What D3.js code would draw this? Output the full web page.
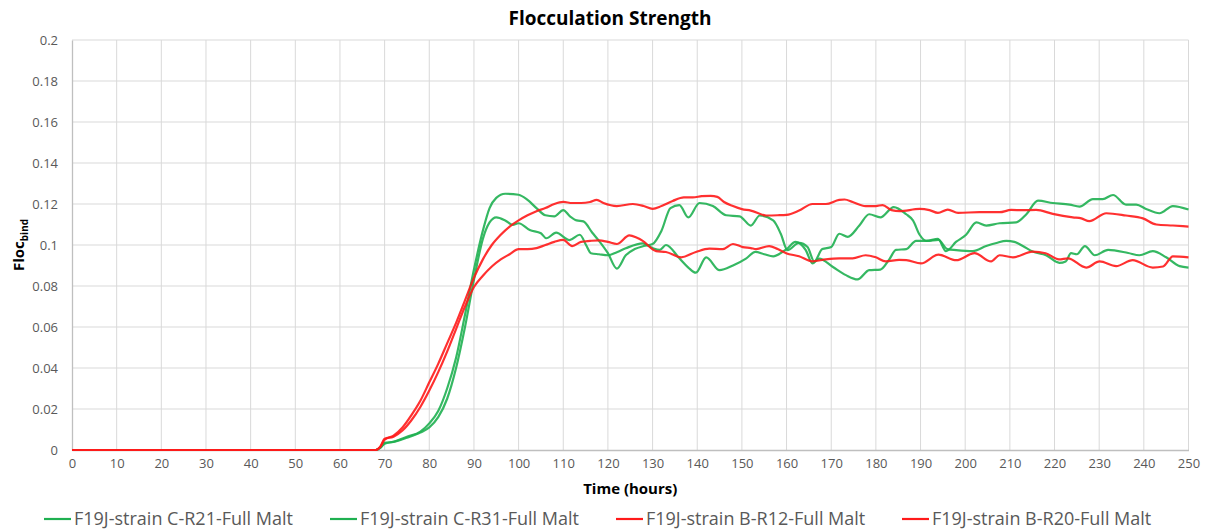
<!DOCTYPE html>
<html>
<head>
<meta charset="utf-8">
<script src="https://cdn.jsdelivr.net/npm/d3@7"></script>
<style>
  body { margin: 0; background: #fff; }
  text { font-family: "Open Sans", "DejaVu Sans", sans-serif; }
</style>
</head>
<body>
<script>
var width = 1209;
var height = 532;
var margin = {top: 40, right: 20.5, bottom: 82, left: 72};

var xTicks = [0,10,20,30,40,50,60,70,80,90,100,110,120,130,140,150,160,170,180,190,200,210,220,230,240,250];
var yTicks = [0,0.02,0.04,0.06,0.08,0.1,0.12,0.14,0.16,0.18,0.2];
var seriesNames = ["F19J-strain C-R21-Full Malt", "F19J-strain C-R31-Full Malt", "F19J-strain B-R12-Full Malt", "F19J-strain B-R20-Full Malt"];
var seriesColors = ["#1fb051", "#1fb051", "#ff1a1a", "#ff1a1a"];

// [hour, floc]
var cR21 = [[0,0],[68,0],[69,0.001],[70,0.003],[72,0.004],[75,0.0065],[78,0.009],[80,0.013],[82,0.019],[84,0.03],[86,0.045],[88,0.066],[90,0.088],[92,0.107],[93.5,0.118],[95,0.123],[97,0.125],[100,0.1245],[102,0.122],[104,0.118],[106,0.1145],[108,0.114],[110,0.117],[111.5,0.114],[113,0.112],[114.5,0.1115],[116.5,0.106],[118,0.102],[120,0.096],[122,0.0885],[124,0.095],[126,0.098],[128,0.0995],[130,0.1005],[132,0.107],[134,0.118],[136,0.1195],[138,0.1135],[140.5,0.1205],[143.5,0.119],[146.5,0.1145],[149.5,0.114],[152,0.1095],[154,0.1144],[157,0.112],[158.7,0.1055],[160.2,0.0975],[162.8,0.101],[164.7,0.099],[166.2,0.092],[168,0.098],[170,0.099],[171.8,0.1055],[173.7,0.104],[176.3,0.1095],[178.5,0.115],[181,0.1135],[184,0.1185],[186.8,0.115],[188.3,0.112],[189.8,0.105],[191.3,0.102],[193.9,0.103],[195.7,0.097],[198,0.1016],[200.2,0.105],[202.5,0.111],[204.7,0.1095],[207.7,0.1106],[211.4,0.111],[213.7,0.115],[216.3,0.1216],[219.6,0.1205],[223.4,0.1197],[225.6,0.1187],[228.6,0.1224],[230.8,0.1224],[233.1,0.1244],[236,0.1197],[238.3,0.1197],[240.5,0.1176],[243.5,0.1155],[246.5,0.119],[250,0.1173]];

var cR31 = [[0,0],[68,0],[69,0.001],[70,0.0035],[72,0.004],[75,0.006],[78,0.0085],[80,0.011],[82,0.016],[84,0.025],[86,0.04],[88,0.06],[90,0.083],[92,0.103],[93.5,0.111],[95,0.1135],[97,0.112],[98.7,0.1098],[100,0.1106],[102.5,0.1073],[105,0.1057],[106.2,0.1033],[108.4,0.106],[111.4,0.1024],[113.7,0.105],[115.1,0.1],[116.2,0.096],[118,0.0955],[120,0.095],[122,0.0965],[124,0.0984],[127.8,0.1008],[130,0.0985],[131.6,0.0976],[133,0.1],[136,0.0935],[138,0.089],[139.7,0.0865],[142,0.094],[145,0.0877],[148,0.09],[151,0.0935],[153,0.0966],[155,0.0955],[157,0.0945],[160,0.098],[162,0.1015],[164.3,0.0975],[165.8,0.091],[167.3,0.0934],[170.3,0.0894],[173.3,0.0853],[175.9,0.0832],[178.5,0.0877],[181,0.088],[183,0.093],[184.5,0.0976],[186.8,0.098],[189,0.102],[191.5,0.102],[194,0.1025],[196,0.098],[198,0.0975],[201.7,0.097],[204.7,0.0995],[207,0.101],[209.2,0.102],[211,0.1015],[212.9,0.0995],[215.1,0.0968],[218.1,0.095],[221.1,0.0913],[222.5,0.092],[223.7,0.096],[225,0.0955],[226.8,0.0995],[229,0.095],[232,0.0976],[236.5,0.0961],[239,0.095],[242,0.097],[245,0.094],[248,0.0897],[250,0.089]];

var bR12 = [[0,0],[68,0],[69,0.0015],[70,0.005],[72,0.007],[74,0.011],[76,0.017],[78,0.024],[80,0.033],[82,0.042],[84,0.052],[86,0.062],[88,0.073],[90,0.084],[92,0.093],[94,0.1],[96,0.105],[98,0.109],[100,0.112],[102,0.1145],[104,0.1165],[106,0.118],[108,0.12],[110,0.121],[112,0.1205],[114,0.1205],[116,0.121],[117.5,0.122],[119,0.1205],[122,0.119],[125.6,0.12],[128,0.119],[130,0.1176],[132,0.119],[134.5,0.1215],[137,0.1232],[139,0.1232],[141,0.1238],[143,0.124],[144.5,0.1235],[146,0.121],[148,0.119],[150,0.1175],[152,0.1168],[155.4,0.1144],[158,0.1145],[160,0.1147],[162.8,0.1168],[165.8,0.12],[168.8,0.12],[171.8,0.122],[173,0.1222],[174.8,0.121],[177.7,0.119],[180,0.119],[181.5,0.1195],[183.5,0.117],[185.3,0.1165],[189.8,0.1176],[192,0.117],[193.9,0.1157],[196.1,0.1173],[198.4,0.1157],[203.2,0.116],[207.7,0.116],[210.3,0.1171],[212.9,0.117],[215.9,0.1171],[219.6,0.1152],[224.1,0.1135],[226,0.113],[227.8,0.1116],[231.6,0.1155],[236,0.1144],[239.8,0.113],[242.8,0.11],[246.5,0.1095],[250,0.109]];

var bR20 = [[0,0],[68,0],[69,0.0015],[70,0.0055],[72,0.0065],[74,0.0095],[76,0.0145],[78,0.021],[80,0.029],[82,0.038],[84,0.048],[86,0.059],[88,0.07],[90,0.0795],[92,0.085],[94,0.0895],[96,0.093],[98,0.0955],[100,0.098],[102,0.098],[104,0.0985],[106,0.1],[108,0.1015],[110,0.1025],[112,0.0995],[114,0.1015],[116,0.102],[118,0.1023],[120,0.1015],[122,0.1005],[124.8,0.1047],[126.5,0.1035],[127.8,0.102],[130.8,0.097],[133,0.0966],[136.4,0.094],[139.7,0.0966],[142.7,0.0982],[145.7,0.098],[148,0.1005],[150.2,0.099],[152,0.0985],[153.2,0.098],[156.1,0.0995],[158,0.098],[159.9,0.096],[162.8,0.0945],[165.8,0.092],[168.8,0.093],[171.8,0.0935],[174.8,0.0935],[177.7,0.095],[180,0.094],[182.2,0.092],[185.2,0.0927],[186.8,0.0926],[190.1,0.091],[194,0.0953],[198,0.0926],[202.1,0.096],[205.8,0.092],[207.7,0.095],[210.7,0.094],[215.1,0.0968],[218,0.096],[221,0.093],[223,0.0935],[227.1,0.089],[230.1,0.092],[233.8,0.0897],[237.5,0.0926],[242,0.089],[244.3,0.0895],[246.5,0.0945],[250,0.094]];

var allSeries = [cR21, cR31, bR12, bR20];

var svg = d3.select("body").append("svg")
  .attr("width", width)
  .attr("height", height);

var x = d3.scaleLinear().domain([0, 250]).range([margin.left, width - margin.right]);
var y = d3.scaleLinear().domain([0, 0.2]).range([height - margin.bottom, margin.top]);

// grid
svg.append("g")
  .selectAll("line.v")
  .data(xTicks.slice(1))
  .join("line")
  .attr("x1", d => x(d)).attr("x2", d => x(d))
  .attr("y1", y(0)).attr("y2", y(0.2))
  .attr("stroke", "#d9d9d9").attr("stroke-width", 1);

svg.append("g")
  .selectAll("line.h")
  .data(yTicks.slice(1))
  .join("line")
  .attr("x1", x(0)).attr("x2", x(250))
  .attr("y1", d => y(d)).attr("y2", d => y(d))
  .attr("stroke", "#d9d9d9").attr("stroke-width", 1);

// axes
var xAxis = svg.append("g")
  .attr("transform", "translate(0," + y(0) + ")")
  .call(d3.axisBottom(x).tickValues(xTicks).tickSize(0).tickPadding(9).tickFormat(d3.format("d")));
var yAxis = svg.append("g")
  .attr("transform", "translate(" + x(0) + ",0)")
  .call(d3.axisLeft(y).tickValues(yTicks).tickSize(0).tickPadding(14).tickFormat(d => d === 0 ? "0" : String(+d.toFixed(2))));

[xAxis, yAxis].forEach(function(a) {
  a.select(".domain").attr("stroke", "#bfbfbf").attr("stroke-width", 1.3);
  a.selectAll("text").attr("fill", "#595959").style("font-size", "13px").style("font-family", "'Open Sans', sans-serif");
});

// lines
var line = d3.line()
  .x(d => x(d[0]))
  .y(d => y(d[1]))
  .curve(d3.curveMonotoneX);

svg.append("g")
  .selectAll("path")
  .data(allSeries)
  .join("path")
  .attr("d", line)
  .attr("fill", "none")
  .attr("stroke", (d, i) => seriesColors[i])
  .attr("stroke-width", 2.2)
  .attr("stroke-linejoin", "round")
  .attr("stroke-opacity", 0.9);

// title
svg.append("text")
  .attr("x", 610).attr("y", 25)
  .attr("text-anchor", "middle")
  .style("font-size", "19px").style("font-weight", "bold")
  .attr("fill", "#000")
  .text("Flocculation Strength");

// x label
svg.append("text")
  .attr("x", (x(0) + x(250)) / 2).attr("y", 494)
  .attr("text-anchor", "middle")
  .style("font-size", "15px").style("font-weight", "bold")
  .attr("fill", "#000")
  .text("Time (hours)");

// y label
var yl = svg.append("text")
  .attr("transform", "translate(24," + y(0.1) + ") rotate(-90)")
  .attr("text-anchor", "middle")
  .style("font-size", "15px").style("font-weight", "bold")
  .attr("fill", "#000");
yl.append("tspan").text("Floc");
yl.append("tspan").attr("dy", 4).style("font-size", "10px").text("bind");

// legend
var legend = svg.append("g")
  .selectAll("g")
  .data(seriesNames)
  .join("g")
  .attr("transform", (d, i) => "translate(" + (44 + i * 286) + ",519)");

legend.append("line")
  .attr("x1", 0).attr("x2", 27)
  .attr("stroke", (d, i) => seriesColors[i])
  .attr("stroke-width", 2.2);

legend.append("text")
  .attr("x", 30).attr("dy", "0.35em")
  .style("font-size", "18px")
  .attr("fill", "#595959")
  .text(d => d);
</script>
</body>
</html>
